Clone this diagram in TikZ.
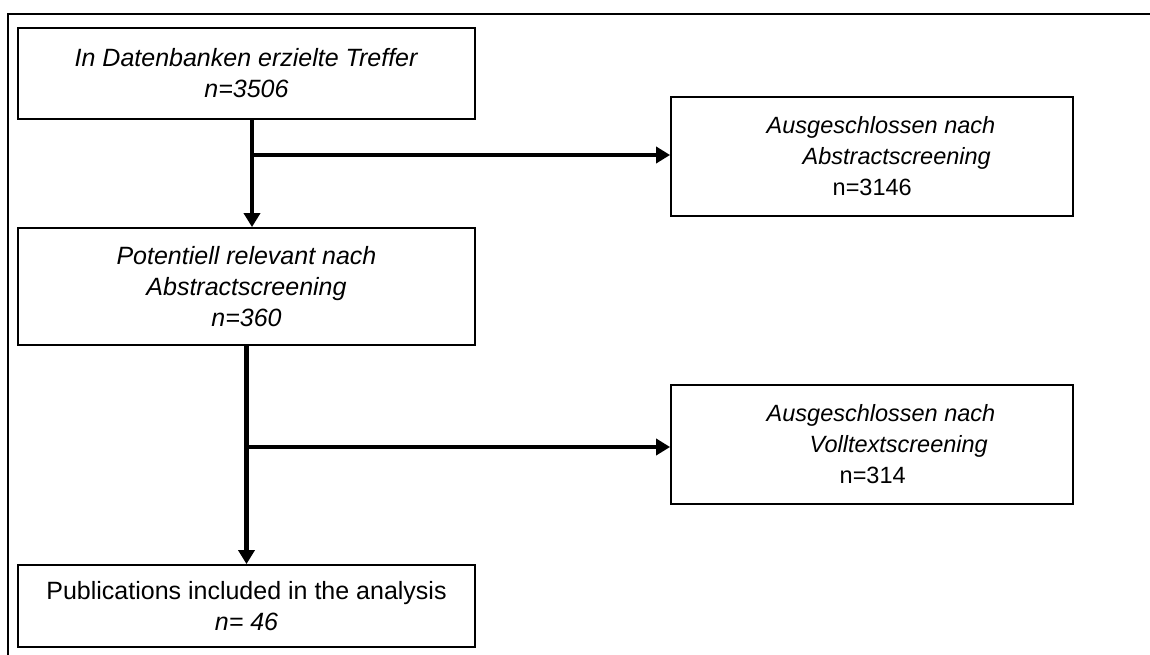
\documentclass[tikz,border=0pt]{standalone}
\usepackage{fontspec}
\setmainfont{Liberation Sans}
\usetikzlibrary{arrows.meta}

\begin{document}
\begin{tikzpicture}[x=1pt, y=-1pt,
  box/.style={draw, line width=1.8pt, minimum width=457pt, inner sep=0pt, align=center, font=\fontsize{25}{31}\selectfont},
  sidebox/.style={draw, line width=1.8pt, minimum width=402pt, minimum height=119pt, inner sep=0pt, align=left, font=\fontsize{23.5}{31}\selectfont},
  arr/.style={line width=4.5pt, -{Triangle[width=16pt,length=14pt]}}]
\useasboundingbox (0,0) rectangle (1150,655);
\draw[line width=2pt] (8,655) -- (8,14) -- (1150,14);
\node[box, minimum height=91pt] (hits) at (246.5,73.5) {\textit{In Datenbanken erzielte Treffer}\\\textit{n=3506}};
\node[box, minimum height=117pt] (relevant) at (246.5,286.5) {\textit{Potentiell relevant nach}\\\textit{Abstractscreening}\\\textit{n=360}};
\node[box, minimum height=82pt] (included) at (246.5,606) {Publications included in the analysis\\\textit{n= 46}};
\node[sidebox] (exabstract) at (872,156.5) {\hspace*{18pt}\textit{Ausgeschlossen nach}\\\hspace*{54pt}\textit{Abstractscreening}\\\hspace*{84pt}n=3146};
\node[sidebox] (exfull) at (872,444.5) {\hspace*{18pt}\textit{Ausgeschlossen nach}\\\hspace*{61pt}\textit{Volltextscreening}\\\hspace*{91pt}n=314};
\coordinate (split1) at (252,155);
\coordinate (split2) at (246.5,447);
\draw[arr] ([xshift=5.5pt]hits.south) -- ([xshift=5.5pt]relevant.north);
\draw[arr] (split1) -- (split1 -| exabstract.west);
\draw[arr] (relevant.south) -- (included.north);
\draw[arr] (split2) -- (split2 -| exfull.west);
\end{tikzpicture}
\end{document}
